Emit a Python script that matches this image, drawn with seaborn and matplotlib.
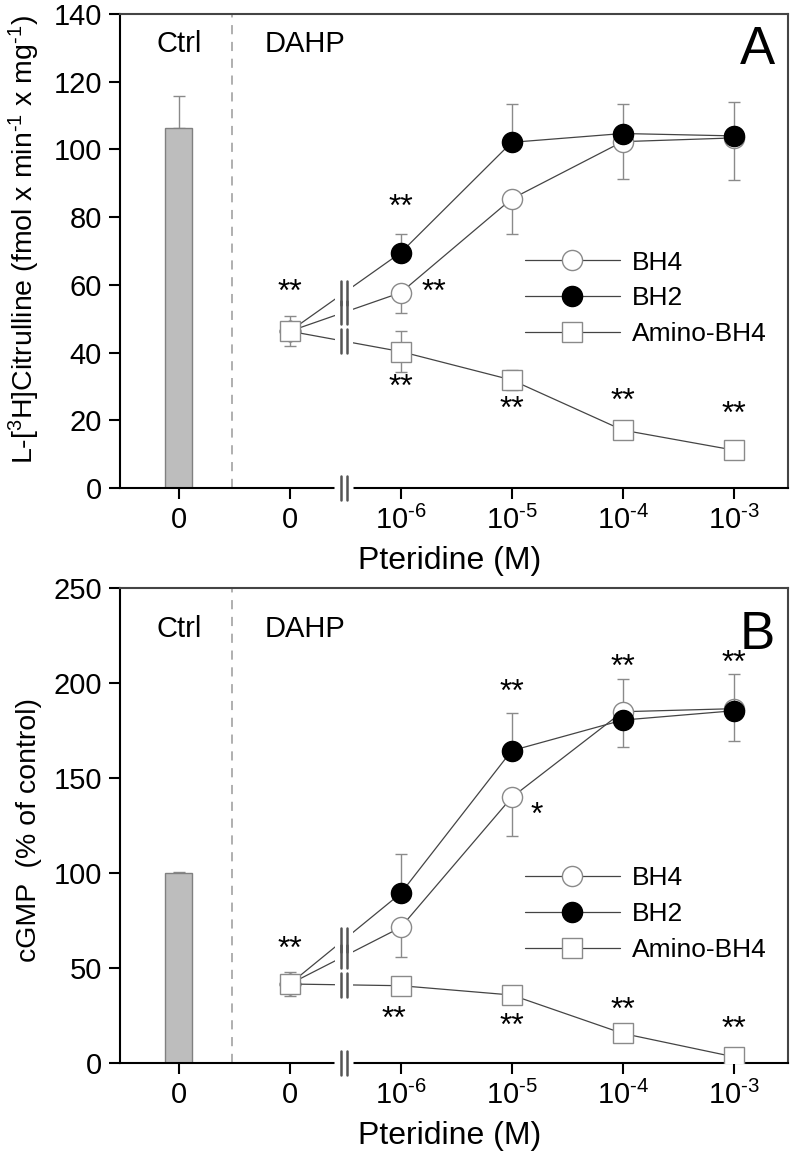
import matplotlib
matplotlib.use("Agg")
import matplotlib.pyplot as plt
import seaborn as sns
import pandas as pd

# x categories
conc_labels = ["0", r"10$^{\text{-}6}$", r"10$^{\text{-}5}$", r"10$^{\text{-}4}$", r"10$^{\text{-}3}$"]
series_names = ["BH4", "BH2", "Amino-BH4"]

# panel A: L-[3H]citrulline
ctrl_a = 106.4
ctrl_a_err = 9.3
bh4_a = [46.3, 57.7, 85.4, 102.3, 103.4]
bh4_a_lo = [0, 5.9, 10.4, 11.0, 12.5]
bh4_a_hi = [0, 0, 0, 0, 0]
bh2_a = [46.3, 69.5, 102.1, 104.7, 104.0]
bh2_a_lo = [0, 0, 0, 0, 0]
bh2_a_hi = [0, 5.4, 11.2, 8.6, 9.9]
amino_a = [46.3, 40.3, 31.9, 17.1, 11.2]
amino_a_err = [4.5, 6.0, 2.9, 0, 0]

# panel B: cGMP
ctrl_b = 100.0
ctrl_b_err = 0.3
bh4_b = [41.6, 71.4, 139.8, 184.9, 186.5]
bh4_b_lo = [0, 15.4, 20.3, 0, 17.0]
bh4_b_hi = [0, 0, 0, 17.1, 0]
bh2_b = [41.6, 89.3, 164.4, 180.5, 185.4]
bh2_b_lo = [0, 0, 0, 14.0, 0]
bh2_b_hi = [0, 20.5, 19.6, 0, 19.2]
amino_b = [41.6, 40.7, 35.8, 15.6, 3.3]
amino_b_err = [6.5, 0, 0, 0, 0]

sns.set_style("ticks")
plt.rcParams["font.family"] = ["Liberation Sans", "DejaVu Sans"]
plt.rcParams["mathtext.fontset"] = "custom"
plt.rcParams["mathtext.rm"] = "Liberation Sans"
plt.rcParams["mathtext.it"] = "Liberation Sans"
plt.rcParams["mathtext.default"] = "regular"
plt.rcParams["text.color"] = "black"
plt.rcParams["axes.labelcolor"] = "black"

LINE = "#444444"
EDGE = "#8a8a8a"
XB = 1.485


def draw_panel(ax, ctrl, ctrl_err, series, ymax, ystep, ylabel, ylabel_y, letter,
               stars, legend_y, text_y, break_half):
    pos = list(range(1, 6))

    # control bar
    ax.bar(0, ctrl, width=0.24, color="#bdbdbd", edgecolor="#808080", linewidth=1, zorder=2)
    ax.errorbar([0], [ctrl], yerr=[[0], [ctrl_err]], fmt="none", ecolor=EDGE,
                elinewidth=1, capsize=4.3, capthick=1, zorder=1.5)
    ax.axvline(0.48, color="#9a9a9a", ls=(0, (6, 5)), lw=1.1, zorder=1)

    styles = {
        "BH4": dict(marker="o", markerfacecolor="white", markeredgecolor=EDGE),
        "BH2": dict(marker="o", markerfacecolor="black", markeredgecolor="black"),
        "Amino-BH4": dict(marker="s", markerfacecolor="white", markeredgecolor=EDGE),
    }
    for i, (name, vals, lo, hi) in enumerate(series):
        ax.errorbar(pos, vals, yerr=[lo, hi], fmt="none", ecolor=EDGE,
                    elinewidth=1, capsize=4.3, capthick=1, zorder=2 + i)
        df = pd.DataFrame({"pos": pos, "value": vals})
        sns.lineplot(data=df, x="pos", y="value", ax=ax, color=LINE, linewidth=0.9,
                     markersize=14.5, markeredgewidth=1, errorbar=None,
                     label=name, zorder=2.5 + i, **styles[name])

    # broken-axis marks between 0 and 10^-6
    ys = [vals[0] + (XB - 1) * (vals[1] - vals[0]) for _, vals, _, _ in series]
    for yb in ys:
        ax.plot([XB, XB], [yb - break_half * 0.8, yb + break_half * 0.8], color="white",
                lw=13, solid_capstyle="butt", zorder=6)
    for yb in ys:
        for dx in (-0.027, 0.027):
            ax.plot([XB + dx] * 2, [yb - break_half, yb + break_half], color="#555555",
                    lw=1.8, zorder=7)
    ax.plot([XB - 0.085, XB + 0.085], [0, 0], color="white", lw=5, clip_on=False,
            solid_capstyle="butt", zorder=8)
    for dx in (-0.027, 0.027):
        ax.plot([XB + dx] * 2, [-break_half, break_half], color="#555555", lw=1.8,
                clip_on=False, zorder=9)

    for x, y, s in stars:
        ax.text(x, y, s, ha="center", va="center", fontsize=23, zorder=10)

    ax.set_xlim(-0.53, 5.49)
    ax.set_ylim(0, ymax)
    ax.set_xticks(range(6))
    ax.set_xticklabels(["0"] + conc_labels)
    ax.set_yticks(range(0, ymax + 1, ystep))
    ax.tick_params(direction="out", length=8, width=1.5, labelsize=21, pad=5,
                   colors="black")
    for side in ["left", "bottom"]:
        ax.spines[side].set_color("black")
        ax.spines[side].set_linewidth(1.5)
    for side in ["top", "right"]:
        ax.spines[side].set_visible(True)
        ax.spines[side].set_color("#444444")
        ax.spines[side].set_linewidth(1.5)

    ax.set_xlabel("Pteridine (M)", fontsize=23)
    ax.xaxis.set_label_coords(0.494, -0.122)
    ax.set_ylabel(ylabel, fontsize=20.5)
    ax.yaxis.set_label_coords(-0.117, ylabel_y)

    ax.text(0, text_y, "Ctrl", ha="center", va="center", fontsize=21,
            transform=ax.get_xaxis_transform())
    ax.text(0.775, text_y, "DAHP", ha="left", va="center", fontsize=21,
            transform=ax.get_xaxis_transform())
    ax.text(0.98, text_y - 0.012, letter, ha="right", va="center", fontsize=38,
            transform=ax.transAxes)

    ax.legend(loc="center left", bbox_to_anchor=(0.606, legend_y), frameon=False,
              fontsize=19, handlelength=3.6, handletextpad=0.45, labelspacing=0.45,
              borderpad=0, borderaxespad=0, numpoints=1)


fig = plt.figure(figsize=(7.91, 11.58), dpi=100)
ax_a = fig.add_axes([0.1517, 0.5786, 0.8445, 0.4093])
ax_b = fig.add_axes([0.1517, 0.0820, 0.8445, 0.4102])

stars_a = [(1.0, 57.6, "**"), (2.0, 82.7, "**"), (2.3, 57.6, "**"), (2.0, 29.5, "**"),
           (3.0, 23.0, "**"), (4.0, 25.4, "**"), (5.0, 21.6, "**")]
stars_b = [(1.0, 59.5, "**"), (3.0, 194.7, "**"), (4.0, 207.9, "**"), (5.0, 210.0, "**"),
           (3.23, 130.0, "*"), (1.94, 22.6, "**"), (3.0, 18.9, "**"), (4.0, 27.4, "**"),
           (5.0, 17.4, "**")]

draw_panel(ax_a, ctrl_a, ctrl_a_err,
           [("BH4", bh4_a, bh4_a_lo, bh4_a_hi),
            ("BH2", bh2_a, bh2_a_lo, bh2_a_hi),
            ("Amino-BH4", amino_a, amino_a_err, amino_a_err)],
           140, 20, r"L-[$^{3}$H]Citrulline (fmol x min$^{\text{-}1}$ x mg$^{\text{-}1}$)", 0.525,
           "A", stars_a, 0.40, 0.937, 3.5)
draw_panel(ax_b, ctrl_b, ctrl_b_err,
           [("BH4", bh4_b, bh4_b_lo, bh4_b_hi),
            ("BH2", bh2_b, bh2_b_lo, bh2_b_hi),
            ("Amino-BH4", amino_b, amino_b_err, amino_b_err)],
           250, 50, "cGMP  (% of control)", 0.49, "B",
           stars_b, 0.314, 0.914, 6.2)

fig.savefig("out.png", dpi=100)
